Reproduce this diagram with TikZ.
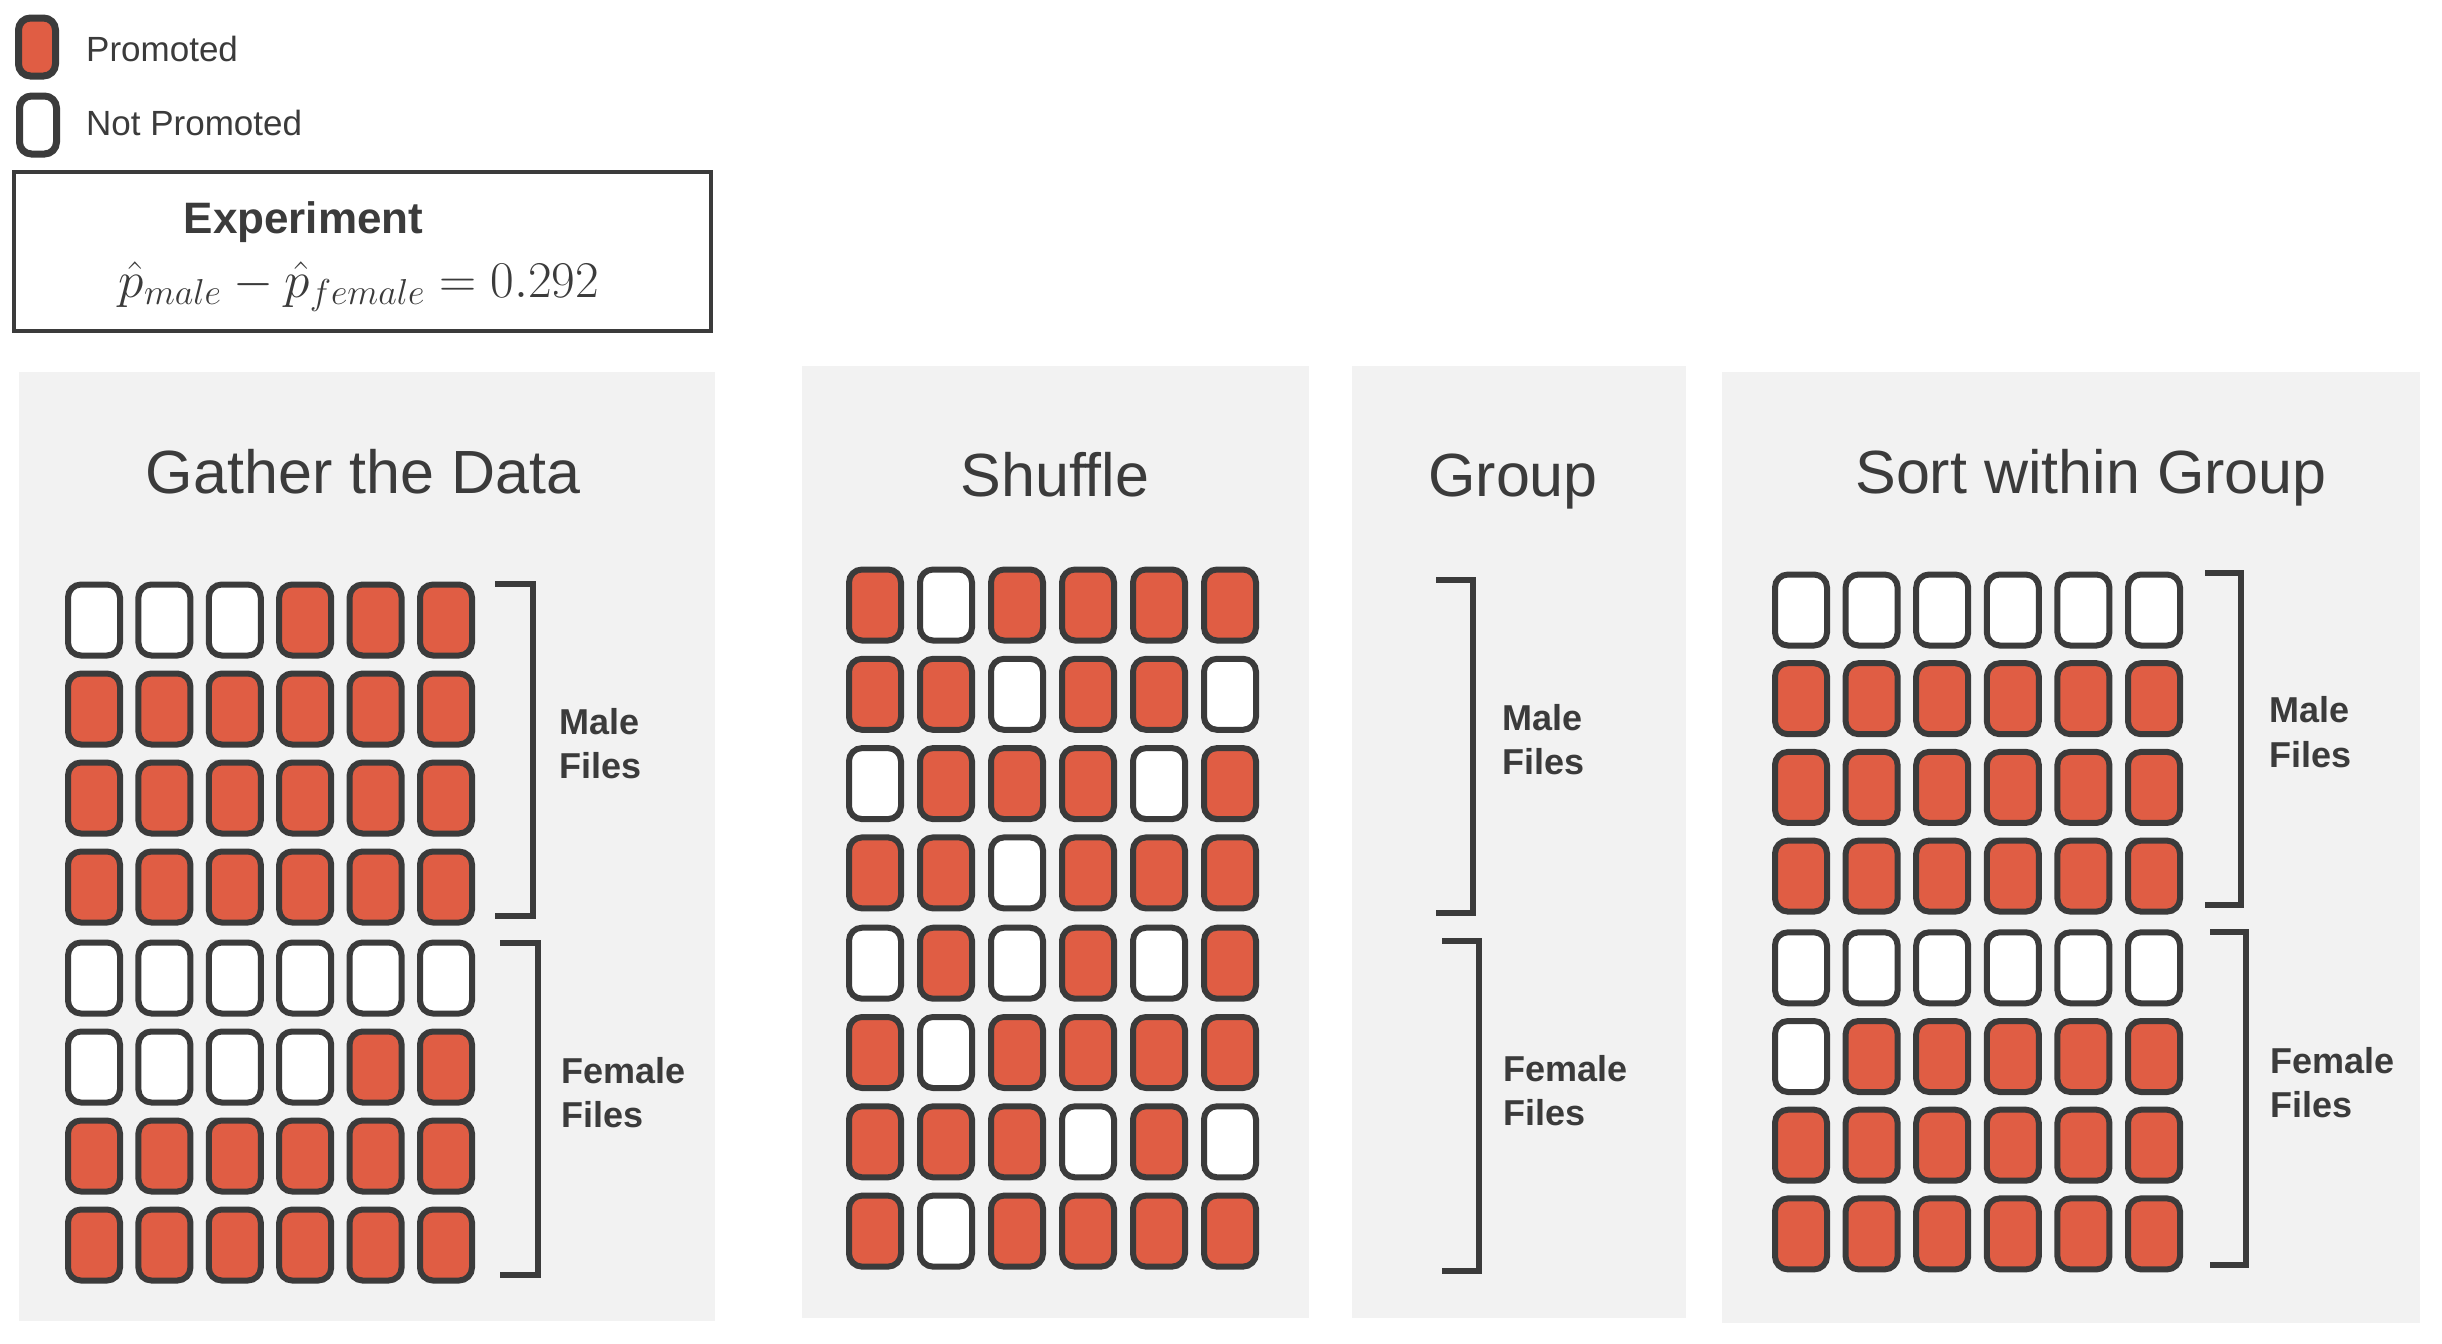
\RequirePackage{fix-cm}
\documentclass[tikz,border=0pt]{standalone}
\usepackage{fontspec}
\newfontfamily\arial{Liberation Sans}
\definecolor{P}{HTML}{E05D44}
\definecolor{W}{HTML}{FFFFFF}
\definecolor{ink}{HTML}{3B3B3B}
\definecolor{panelbg}{HTML}{F2F2F2}
\begin{document}
\begin{tikzpicture}[x=1pt,y=-1pt,
  cell/.style={draw=ink,line width=6pt,rounded corners=13pt,minimum width=52pt,minimum height=71pt,inner sep=0pt,outer sep=0pt},
  legbox/.style={draw=ink,line width=7pt,rounded corners=12pt,minimum width=37pt,minimum height=58pt,inner sep=0pt},
  panel/.style={fill=panelbg},
  ptitle/.style={font=\arial\fontsize{61}{73}\selectfont,text=ink,anchor=base,inner sep=0pt},
  glabel/.style={font=\arial\bfseries\fontsize{36}{43}\selectfont,text=ink,anchor=base west,inner sep=0pt},
  legtext/.style={font=\arial\fontsize{35}{42}\selectfont,text=ink,anchor=base west,inner sep=0pt},
  brk/.style={draw=ink,line width=5.5pt}
]
\useasboundingbox (0,0) rectangle (2442,1344);
% panels
\path[panel] (19,372) rectangle (715,1321);
\path[panel] (802,366) rectangle (1309,1318);
\path[panel] (1352,366) rectangle (1686,1318);
\path[panel] (1722,372) rectangle (2420,1323);
% titles
\node[ptitle] (t1) at (363,493) {Gather the Data};
\node[ptitle] (t2) at (1055,496) {Shuffle};
\node[ptitle] (t3) at (1513,496) {Group};
\node[ptitle] (t4) at (2091,493) {Sort within Group};
% legend
\node[legbox,fill=P] (lp) at (37,47) {};
\node[legbox,fill=W] (lw) at (38,125) {};
\node[legtext] (lpt) at (86,61) {Promoted};
\node[legtext] (lwt) at (86,135) {Not Promoted};
% experiment
\node[draw=ink,line width=3.5pt,minimum width=697pt,minimum height=159pt,inner sep=0pt] (exp) at (362.5,251.5) {};
\node[font=\arial\bfseries\fontsize{44}{53}\selectfont,text=ink,anchor=base,inner sep=0pt] (expt) at (303.5,233) {Experiment};
\node[font=\fontsize{51.5}{62}\selectfont,text=ink,anchor=base,inner sep=0pt] (formula) at (359,297) {$\hat{p}_{male}-\hat{p}_{female}=0.292$};
% gather grid
\foreach \v [count=\i from 0] in {W,W,W,P,P,P, P,P,P,P,P,P, P,P,P,P,P,P, P,P,P,P,P,P, W,W,W,W,W,W, W,W,W,W,P,P, P,P,P,P,P,P, P,P,P,P,P,P}{
  \pgfmathtruncatemacro\rr{int(\i/6)}
  \pgfmathtruncatemacro\cc{mod(\i,6)}
  \pgfmathsetmacro\xx{94+70.4*\cc}
  \pgfmathsetmacro\yy{620+89*\rr+(\rr>3)*2}
  \node[cell,fill=\v] (g\i) at (\xx,\yy) {};
}
% shuffle grid
\foreach \v [count=\i from 0] in {P,W,P,P,P,P, P,P,W,P,P,W, W,P,P,P,W,P, P,P,W,P,P,P, W,P,W,P,W,P, P,W,P,P,P,P, P,P,P,W,P,W, P,W,P,P,P,P}{
  \pgfmathtruncatemacro\rr{int(\i/6)}
  \pgfmathtruncatemacro\cc{mod(\i,6)}
  \pgfmathsetmacro\xx{875+71*\cc}
  \pgfmathsetmacro\yy{605+89.3*\rr+(\rr>3)*1}
  \node[cell,fill=\v] (s\i) at (\xx,\yy) {};
}
% sorted grid
\foreach \v [count=\i from 0] in {W,W,W,W,W,W, P,P,P,P,P,P, P,P,P,P,P,P, P,P,P,P,P,P, W,W,W,W,W,W, W,P,P,P,P,P, P,P,P,P,P,P, P,P,P,P,P,P}{
  \pgfmathtruncatemacro\rr{int(\i/6)}
  \pgfmathtruncatemacro\cc{mod(\i,6)}
  \pgfmathsetmacro\xx{1801+70.6*\cc}
  \pgfmathsetmacro\yy{610+88.7*\rr+(\rr>3)*3}
  \node[cell,fill=\v] (o\i) at (\xx,\yy) {};
}
% brackets
\draw[brk] (495,584) -- (533,584) -- (533,916) -- (495,916);
\draw[brk] (500,943) -- (538,943) -- (538,1275) -- (500,1275);
\draw[brk] (1436,580) -- (1473,580) -- (1473,913) -- (1436,913);
\draw[brk] (1442,941) -- (1479,941) -- (1479,1271) -- (1442,1271);
\draw[brk] (2205,573) -- (2241,573) -- (2241,905) -- (2205,905);
\draw[brk] (2210,932) -- (2246,932) -- (2246,1265) -- (2210,1265);
% labels
\node[glabel] (gm1) at (559,734) {Male};
\node[glabel] (gm2) at (559,778) {Files};
\node[glabel] (gf1) at (561,1083) {Female};
\node[glabel] (gf2) at (561,1127) {Files};
\node[glabel] (rm1) at (1502,730) {Male};
\node[glabel] (rm2) at (1502,774) {Files};
\node[glabel] (rf1) at (1503,1081) {Female};
\node[glabel] (rf2) at (1503,1125) {Files};
\node[glabel] (om1) at (2269,722) {Male};
\node[glabel] (om2) at (2269,767) {Files};
\node[glabel] (of1) at (2270,1073) {Female};
\node[glabel] (of2) at (2270,1117) {Files};
\end{tikzpicture}
\end{document}
